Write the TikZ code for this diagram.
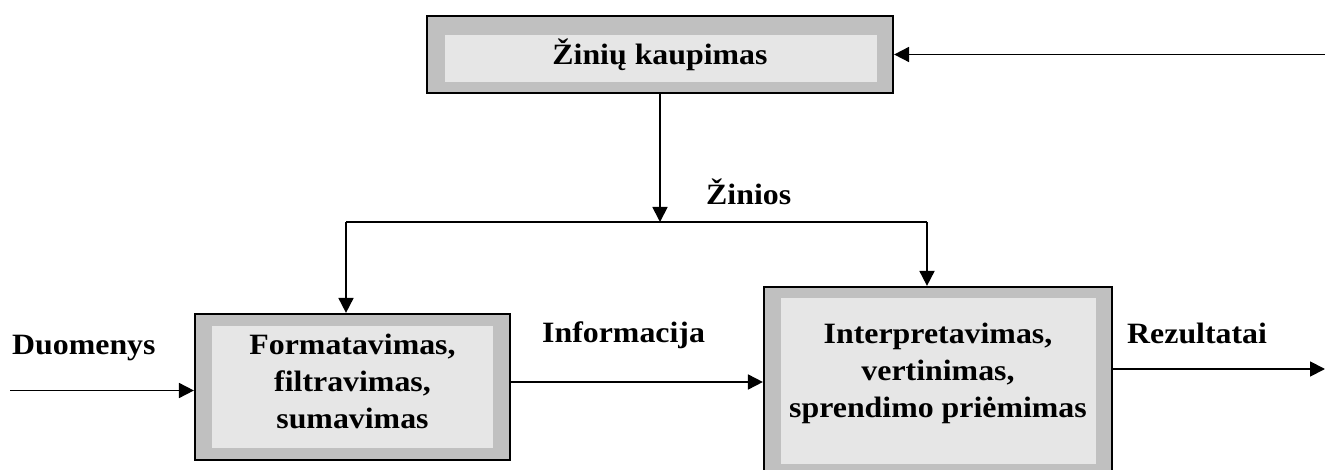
\documentclass[tikz,border=0pt]{standalone}
\usepackage{fontspec}
\setmainfont{Liberation Serif}[FakeStretch=1.08]
\usetikzlibrary{arrows.meta}

\definecolor{bandgray}{HTML}{C0C0C0}
\definecolor{fillgray}{HTML}{E6E6E6}

\begin{document}
\begin{tikzpicture}[x=1pt,y=-1pt,
  outerbox/.style={draw=black, line width=2.2pt, fill=bandgray, inner sep=0pt, minimum width=#1},
  innerbox/.style={fill=fillgray, inner sep=0pt, minimum width=#1},
  lbl/.style={font=\fontsize{29.5}{37}\selectfont\bfseries, inner sep=0pt},
  boxtext/.style={lbl, align=center},
  flow/.style={line width=1.8pt, -{Triangle[length=15pt,width=15pt]}},
  wire/.style={line width=1.8pt}
]
\useasboundingbox (0,0) rectangle (1325,470);
\clip (0,0) rectangle (1325,470);

% knowledge accumulation block (top)
\node[outerbox=466pt, minimum height=77pt] (kaup) at (660,54.5) {};
\node[innerbox=432pt, minimum height=47pt] (kaupin) at (661,58.5) {};
\node[lbl, anchor=base] (kauptxt) at (660,65) {Žinių kaupimas};

% formatting / filtering / summing block
\node[outerbox=315pt, minimum height=146pt] (form) at (352.5,387) {};
\node[innerbox=281pt, minimum height=122pt] (formin) at (352.5,387) {};
\node[boxtext] (formtxt) at (352.5,381) {Formatavimas,\\filtravimas,\\sumavimas};

% interpretation / evaluation / decision block
\node[outerbox=348pt, minimum height=188pt] (interp) at (938,381) {};
\node[innerbox=315pt, minimum height=166pt] (interpin) at (938.5,381) {};
\node[boxtext] (interptxt) at (938,373) {Interpretavimas,\\vertinimas,\\sprendimo priėmimas};

% free ends and routing points
\coordinate (fbin) at (1325,54.5);
\coordinate (din) at (10,390.5);
\coordinate (infoy) at (0,382);
\coordinate (rout) at (1325,369);
\coordinate (jm) at (660,222);
\coordinate (jl) at (346,222);
\coordinate (jr) at (927,222);

% connectors
\draw[flow] (fbin) -- (kaup.east);
\draw[flow] (kaup.south) -- (jm);
\draw[wire] (jl) -- (jr);
\draw[flow] (jl) -- (jl |- form.north);
\draw[flow] (jr) -- (jr |- interp.north);
\draw[flow] (din) -- (form.west |- din);
\draw[flow] (form.east |- infoy) -- (interp.west |- infoy);
\draw[flow] (interp.east |- rout) -- (rout);

% connector labels
\node[lbl, anchor=base west] (zinios) at (706,205) {Žinios};
\node[lbl, anchor=base west] (duom) at (12,354) {Duomenys};
\node[lbl, anchor=base west] (info) at (542,342) {Informacija};
\node[lbl, anchor=base west] (rez) at (1127,343) {Rezultatai};
\end{tikzpicture}
\end{document}
